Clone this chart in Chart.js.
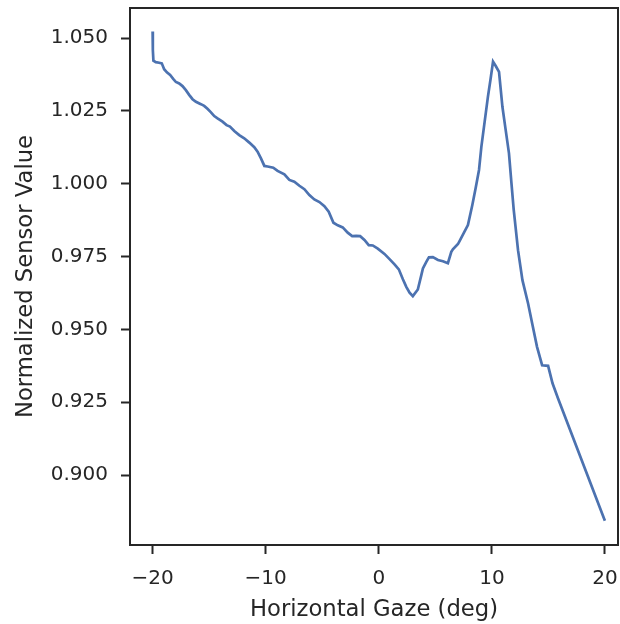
<!DOCTYPE html>
<html>
<head>
<meta charset="utf-8">
<script src="https://cdn.jsdelivr.net/npm/chart.js@4/dist/chart.umd.min.js"></script>
<style>
  html, body { margin: 0; padding: 0; background: #fff; }
  #wrap { width: 620px; height: 624px; }
</style>
</head>
<body>
<div id="wrap"><canvas id="gazeChart" width="620" height="624"></canvas></div>
<script>
// horizontal gaze angle (deg)
const gazeDeg = [
  -20.0, -19.98, -19.93, -19.72, -19.42, -19.19, -18.98, -18.74, -18.45, -18.18,
  -17.94, -17.65, -17.36, -17.06, -16.77, -16.47, -16.17, -15.73, -15.44, -15.15,
  -14.84, -14.55, -14.26, -13.82, -13.46, -13.16, -12.78, -12.34, -11.90, -11.45,
  -11.01, -10.72, -10.42, -10.12, -9.83, -9.33, -8.95, -8.35, -7.91, -7.47,
  -7.02, -6.58, -6.14, -5.70, -5.25, -4.81, -4.43, -4.01, -3.63, -3.19,
  -2.75, -2.36, -2.00, -1.65, -1.27, -0.89, -0.53, -0.09, 0.50, 0.95,
  1.39, 1.77, 2.13, 2.43, 2.72, 3.01, 3.45, 3.76, 3.90, 4.20,
  4.43, 4.78, 5.23, 5.67, 6.11, 6.41, 6.55, 7.00, 7.15, 7.53,
  7.88, 8.27, 8.56, 8.86, 9.07, 9.36, 9.65, 9.87, 10.10, 10.34,
  10.63, 10.93, 11.22, 11.51, 11.73, 11.93, 12.31, 12.70, 13.20, 13.59,
  13.99, 14.44, 14.97, 15.36, 15.85, 19.99
];

// normalized sensor value
const sensorValue = [
  1.0522, 1.0459, 1.0422, 1.0417, 1.0415, 1.0413, 1.0393, 1.0382, 1.0373, 1.0360,
  1.0349, 1.0344, 1.0335, 1.0321, 1.0305, 1.0290, 1.0281, 1.0273, 1.0267, 1.0257,
  1.0245, 1.0232, 1.0224, 1.0213, 1.0201, 1.0196, 1.0181, 1.0167, 1.0156, 1.0141,
  1.0125, 1.0110, 1.0087, 1.0061, 1.0059, 1.0055, 1.0044, 1.0032, 1.0013, 1.0007,
  0.9993, 0.9981, 0.9961, 0.9946, 0.9937, 0.9923, 0.9904, 0.9866, 0.9857, 0.9850,
  0.9832, 0.9820, 0.9821, 0.9820, 0.9807, 0.9789, 0.9788, 0.9777, 0.9759, 0.9741,
  0.9723, 0.9706, 0.9672, 0.9646, 0.9626, 0.9614, 0.9637, 0.9686, 0.9709, 0.9732,
  0.9747, 0.9748, 0.9738, 0.9734, 0.9727, 0.9766, 0.9775, 0.9793, 0.9804, 0.9832,
  0.9858, 0.9927, 0.9984, 1.0047, 1.0127, 1.0213, 1.0299, 1.0356, 1.0419, 1.0404,
  1.0384, 1.0264, 1.0184, 1.0104, 1.0001, 0.9910, 0.9772, 0.9669, 0.9589, 0.9515,
  0.9440, 0.9377, 0.9375, 0.9315, 0.9263, 0.8843
];

const xTicks = [-20, -10, 0, 10, 20];
const yTicks = [0.900, 0.925, 0.950, 0.975, 1.000, 1.025, 1.050];

const ink = '#262626';
const tickFont = { family: 'DejaVu Sans', size: 20 };
const titleFont = { family: 'DejaVu Sans', size: 22.7, lineHeight: 1.0 };

// matplotlib-style box: top and right spines too
const frame = {
  id: 'frame',
  afterDraw(chart) {
    const { ctx, chartArea: a } = chart;
    ctx.save();
    ctx.strokeStyle = ink;
    ctx.lineWidth = 2;
    ctx.strokeRect(a.left, a.top, a.right - a.left, a.bottom - a.top);
    ctx.restore();
  }
};

new Chart(document.getElementById('gazeChart'), {
  type: 'line',
  data: {
    datasets: [{
      data: gazeDeg.map((x, i) => ({ x, y: sensorValue[i] })),
      borderColor: '#4c72b0',
      borderWidth: 2.7,
      pointRadius: 0,
      tension: 0,
      fill: false
    }]
  },
  options: {
    responsive: false,
    animation: false,
    layout: { padding: { top: 8, right: 2, left: 0, bottom: 0 } },
    plugins: { legend: { display: false }, tooltip: { enabled: false } },
    scales: {
      x: {
        type: 'linear',
        min: -22,
        max: 21.15,
        afterBuildTicks: (s) => { s.ticks = xTicks.map((v) => ({ value: v })); },
        afterFit: (s) => { s.height = 79; s.paddingLeft = 0; s.paddingRight = 0; },
        border: { display: true, color: ink, width: 2 },
        grid: { drawOnChartArea: false, drawTicks: true, tickLength: 9, tickWidth: 2, tickColor: ink },
        ticks: {
          color: ink, font: tickFont, padding: 13, maxRotation: 0,
          callback: (v) => String(v).replace('-', '\u2212')
        },
        title: { display: true, text: 'Horizontal Gaze (deg)', color: ink, font: titleFont, padding: { top: 2, bottom: 3 } }
      },
      y: {
        min: 0.876,
        max: 1.0603,
        afterBuildTicks: (s) => { s.ticks = yTicks.map((v) => ({ value: v })); },
        afterFit: (s) => { s.width = 130; s.paddingTop = 0; s.paddingBottom = 0; },
        border: { display: true, color: ink, width: 2 },
        grid: { drawOnChartArea: false, drawTicks: true, tickLength: 9, tickWidth: 2, tickColor: ink },
        ticks: { color: ink, font: tickFont, padding: 13, callback: (v) => v.toFixed(3) },
        title: { display: true, text: 'Normalized Sensor Value', color: ink, font: titleFont, padding: { top: 15, bottom: 4 } }
      }
    }
  },
  plugins: [frame]
});
</script>
</body>
</html>
